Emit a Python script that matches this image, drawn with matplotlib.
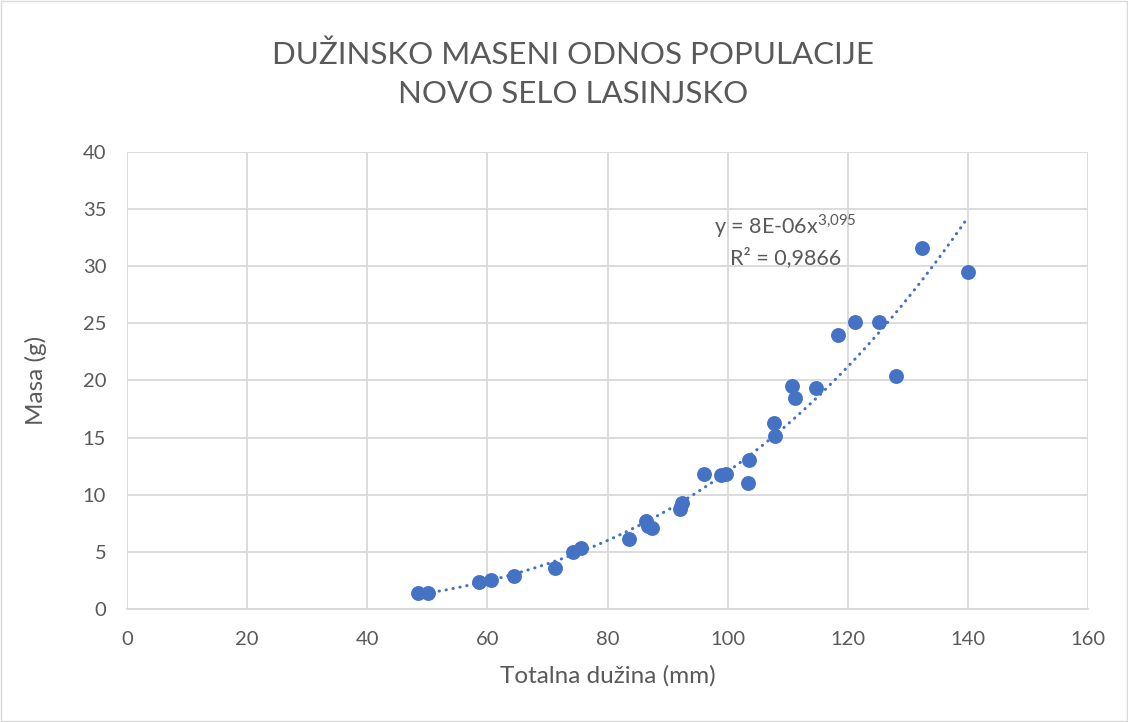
import matplotlib.pyplot as plt
import numpy as np

plt.rcParams['font.family'] = ['Lato', 'DejaVu Sans']
plt.rcParams['mathtext.fontset'] = 'custom'
plt.rcParams['mathtext.rm'] = 'Lato'

# totalna duzina (mm) i masa (g)
duzina = [48.5, 50.1, 58.6, 60.6, 64.4, 71.3, 74.3, 75.6, 83.6, 86.4,
          86.7, 87.4, 92.1, 92.4, 96.1, 98.9, 99.7, 103.4, 103.6, 107.7,
          107.9, 110.7, 111.2, 114.7, 118.4, 121.2, 125.2, 128.0, 132.4, 140.0]
masa = [1.4, 1.4, 2.4, 2.5, 2.9, 3.6, 5.0, 5.3, 6.1, 7.7,
        7.3, 7.1, 8.75, 9.3, 11.8, 11.7, 11.8, 11.0, 13.0, 16.3,
        15.1, 19.5, 18.5, 19.3, 24.0, 25.1, 25.1, 20.4, 31.6, 29.5]

x_ticks = [0, 20, 40, 60, 80, 100, 120, 140, 160]
y_ticks = [0, 5, 10, 15, 20, 25, 30, 35, 40]

blue = '#4472C4'
grey = '#595959'

fig = plt.figure(figsize=(11.28, 7.22), dpi=100)
ax = fig.add_axes([0.1126, 0.1565, 0.852, 0.633])

x = np.array(duzina)
y = np.array(masa)

# power trend line, fitted in log-log space
b, ln_a = np.polyfit(np.log(x), np.log(y), 1)
xs = np.linspace(x.min(), x.max(), 200)
ax.plot(xs, np.exp(ln_a) * xs ** b, color=blue, lw=2.2,
        linestyle=(0, (0.1, 2.2)), dash_capstyle='round', zorder=2)

ax.scatter(x, y, s=115, color=blue, zorder=3, linewidths=0)

ax.set_xlim(0, 160)
ax.set_ylim(0, 40)
ax.set_xticks(x_ticks)
ax.set_yticks(y_ticks)
ax.grid(True, color='#d9d9d9', lw=1.3)
ax.set_axisbelow(True)
for s in ['top', 'right', 'left']:
    ax.spines[s].set_visible(False)
ax.spines['bottom'].set_color('#d9d9d9')
ax.spines['bottom'].set_linewidth(1.3)
ax.tick_params(length=0, labelsize=14.5, colors=grey)
ax.tick_params(axis='x', pad=16)
ax.tick_params(axis='y', pad=15)

ax.set_xlabel('Totalna dužina (mm)', fontsize=17.5, color=grey, labelpad=12)
ax.set_ylabel('Masa (g)', fontsize=17.5, color=grey, labelpad=26)

fig.text(0.508, 0.897, 'DUŽINSKO MASENI ODNOS POPULACIJE\nNOVO SELO LASINJSKO',
         ha='center', va='center', fontsize=22.5, color=grey, linespacing=1.5)

ax.text(109.6, 32.3, 'y = 8E-06x$^{\\mathregular{3{,}095}}$\nR² = 0,9866', ha='center', va='center',
        fontsize=15.5, color=grey, linespacing=1.45)

fig.patches.append(plt.Rectangle((0.001, 0.001), 0.998, 0.998, transform=fig.transFigure,
                                 fill=False, edgecolor='#d9d9d9', lw=1))

fig.savefig('out.png', dpi=100)
